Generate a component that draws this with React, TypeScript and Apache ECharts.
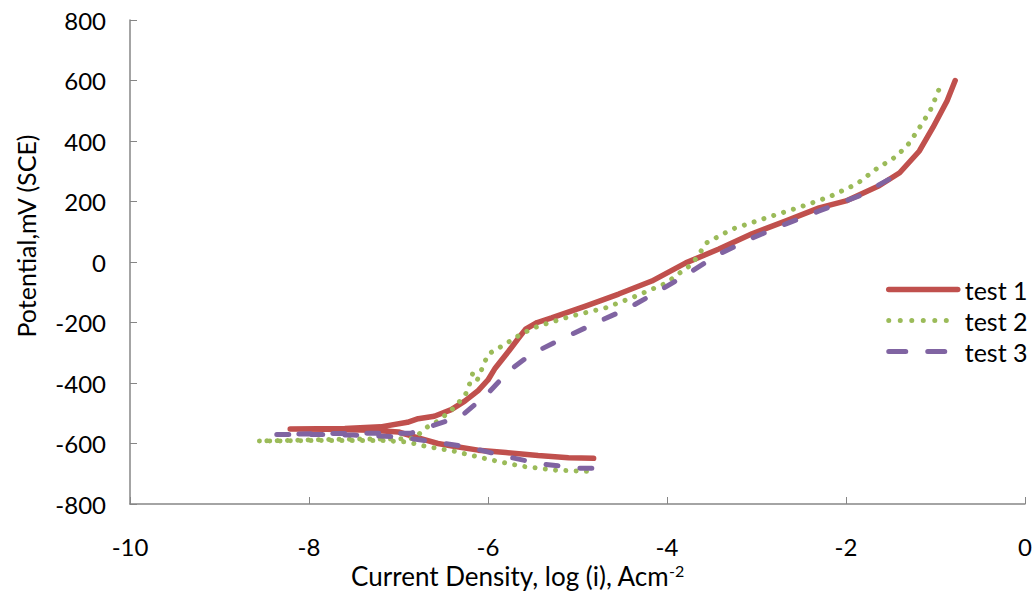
import React, { useEffect, useRef } from "react";
import * as echarts from "echarts";

const seriesNames = ["test 1", "test 2", "test 3"];
const colors = ["#C0504D", "#9BBB59", "#8064A2"];

const xTicks = { min: -10, max: 0, interval: 2 };
const yTicks = { min: -800, max: 800, interval: 200 };

const test1: [number, number][] = [
  [-4.82, -649], [-5.1, -647], [-5.44, -640], [-5.8, -630], [-6.11, -622], [-6.4, -608],
  [-6.56, -600], [-6.8, -580], [-7.0, -562], [-7.3, -556], [-7.8, -553], [-8.21, -552],
  [-7.6, -550], [-7.2, -545], [-6.9, -530], [-6.78, -518], [-6.6, -510], [-6.41, -488],
  [-6.26, -460], [-6.11, -425], [-6.0, -390], [-5.92, -351], [-5.77, -295], [-5.66, -252],
  [-5.58, -222], [-5.45, -200], [-5.29, -185], [-4.91, -146], [-4.54, -106], [-4.17, -63],
  [-3.79, -3], [-3.42, 43], [-3.05, 93], [-2.67, 136], [-2.3, 179], [-2.0, 202],
  [-1.63, 252], [-1.4, 295], [-1.18, 367], [-1.03, 444], [-0.87, 533], [-0.78, 600],
];

const test2: [number, number][] = [
  [-4.9, -692], [-5.25, -688], [-5.63, -675], [-6.0, -652], [-6.37, -626], [-6.7, -609],
  [-6.9, -595], [-7.2, -590], [-7.8, -590], [-8.2, -591], [-8.57, -592],
  [-8.0, -588], [-7.4, -585], [-7.0, -585], [-6.82, -583], [-6.7, -549], [-6.56, -526],
  [-6.41, -490], [-6.26, -443], [-6.22, -417], [-6.17, -367], [-6.12, -390], [-6.0, -305],
  [-5.81, -272], [-5.63, -238], [-5.44, -212], [-5.07, -179], [-4.69, -152], [-4.35, -113],
  [-4.01, -70], [-3.83, -30], [-3.72, -7], [-3.62, 36], [-3.56, 63], [-3.27, 109],
  [-2.89, 146], [-2.54, 179], [-2.19, 215], [-1.88, 258], [-1.66, 308], [-1.43, 351],
  [-1.29, 394], [-1.18, 444], [-1.06, 500], [-0.98, 556], [-0.93, 595],
];

const test3: [number, number][] = [
  [-4.84, -682], [-4.96, -682], [-5.4, -668], [-5.81, -642], [-6.22, -612], [-6.67, -592],
  [-7.0, -578], [-7.5, -572], [-8.0, -570], [-8.36, -570],
  [-7.8, -567], [-7.2, -566], [-6.86, -566], [-6.64, -543], [-6.3, -510], [-6.0, -434],
  [-5.77, -361], [-5.52, -305], [-5.18, -255], [-4.8, -202], [-4.43, -152], [-4.09, -96],
  [-3.72, -30], [-3.42, 26], [-3.05, 79], [-2.67, 126], [-2.3, 169], [-1.85, 219],
  [-1.45, 285],
];

const FONT = "Lato, 'Noto Sans', sans-serif";

export default function App() {
  const ref = useRef<HTMLDivElement>(null);
  useEffect(() => {
    if (!ref.current) return;
    const chart = echarts.init(ref.current, null, { renderer: "svg" });
    const axisLine = { show: true, lineStyle: { color: "#868686", width: 1.5 } };
    chart.setOption({
      animation: false,
      textStyle: { fontFamily: FONT },
      grid: { left: 130, right: 11, top: 20, bottom: 91, containLabel: false },
      legend: {
        orient: "vertical",
        left: 881,
        top: 272,
        itemWidth: 69,
        itemHeight: 14,
        itemGap: 6,
        itemStyle: { opacity: 0 },
        lineStyle: { width: 5, cap: "round" },
        data: [
          { name: seriesNames[0], lineStyle: { width: 5.5, cap: "round" } },
          { name: seriesNames[1], lineStyle: { width: 5, type: [0.01, 11.5], cap: "round" } },
          { name: seriesNames[2], lineStyle: { width: 5, type: [17, 22], cap: "round" } },
        ],
        textStyle: { fontFamily: FONT, fontSize: 25, color: "#000", padding: [0, 0, 0, 2] },
      },
      xAxis: {
        type: "value",
        min: xTicks.min,
        max: xTicks.max,
        interval: xTicks.interval,
        axisLine: { ...axisLine, onZero: false },
        axisTick: { show: true, inside: true, length: 7, lineStyle: { color: "#868686" } },
        splitLine: { show: false },
        axisLabel: { fontFamily: FONT, fontSize: 24, color: "#000", margin: 30 },
        name: "Current Density, log (i), Acm{sup|-2}",
        nameLocation: "middle",
        nameGap: 58,
        nameTextStyle: {
          fontFamily: FONT,
          fontSize: 26,
          color: "#000",
          padding: [0, 120, 0, 0],
          rich: { sup: { fontFamily: FONT, fontSize: 16, color: "#000", verticalAlign: "top", padding: [0, 0, 10, 0] } },
        },
      },
      yAxis: {
        type: "value",
        min: yTicks.min,
        max: yTicks.max,
        interval: yTicks.interval,
        axisLine: { ...axisLine, onZero: false },
        axisTick: { show: true, inside: true, length: 7, lineStyle: { color: "#868686" } },
        splitLine: { show: false },
        axisLabel: { fontFamily: FONT, fontSize: 24, color: "#000", margin: 24 },
        name: "Potential,mV (SCE)",
        nameLocation: "middle",
        nameGap: 92,
        nameTextStyle: { fontFamily: FONT, fontSize: 25, color: "#000", padding: [0, 0, 0, 52] },
      },
      series: [
        {
          name: seriesNames[0],
          type: "line",
          data: test1,
          symbol: "none",
          color: colors[0],
          lineStyle: { color: colors[0], width: 5.5, cap: "round", join: "round" },
        },
        {
          name: seriesNames[1],
          type: "line",
          data: test2,
          symbol: "none",
          color: colors[1],
          lineStyle: { color: colors[1], width: 5, type: [0.01, 10.3], cap: "round", join: "round" },
        },
        {
          name: seriesNames[2],
          type: "line",
          data: test3,
          symbol: "none",
          color: colors[2],
          lineStyle: { color: colors[2], width: 5, type: [12, 22], cap: "round", join: "round" },
        },
      ],
    });
    return () => chart.dispose();
  }, []);
  return <div ref={ref} style={{ width: 1036, height: 595, position: "absolute", left: 0, top: 0 }} />;
}
